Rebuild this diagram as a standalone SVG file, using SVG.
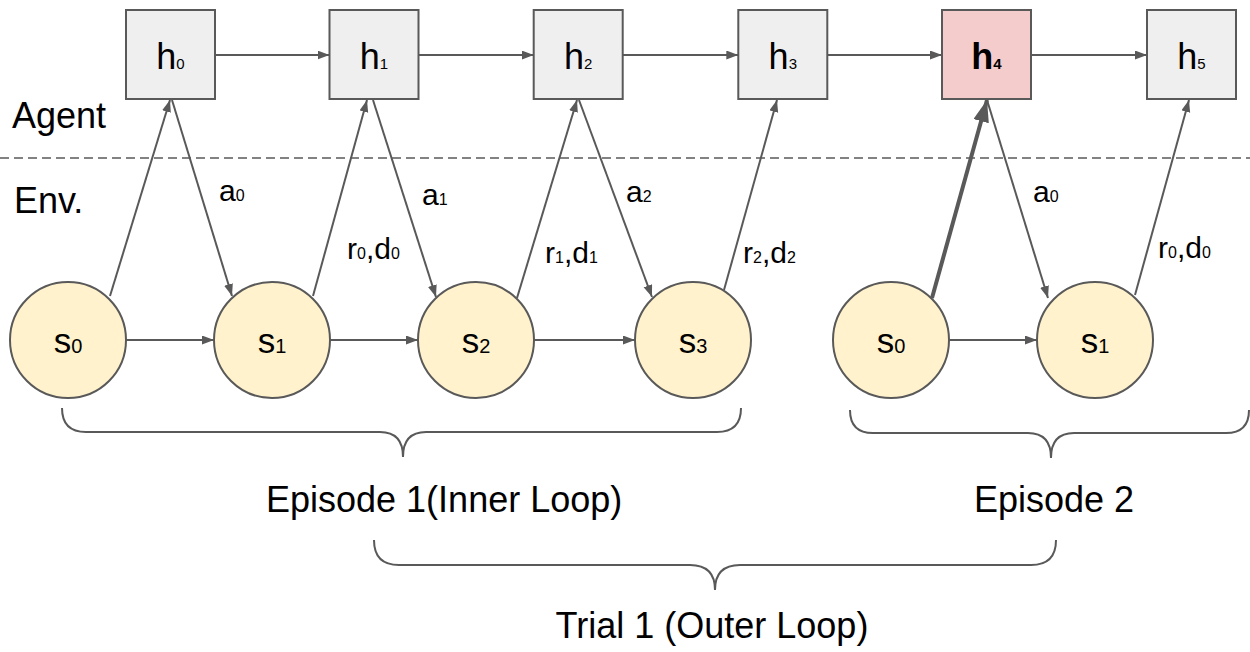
<svg xmlns="http://www.w3.org/2000/svg" width="1250" height="652" viewBox="0 0 1250 652">
  <style>
    .box { fill: #efefef; stroke: #595959; stroke-width: 2; }
    .box-hot { fill: #f4cccc; stroke: #595959; stroke-width: 2; }
    .state { fill: #fff2cc; stroke: #595959; stroke-width: 2; }
    .edge { fill: none; stroke: #595959; stroke-width: 2; marker-end: url(#arrow); }
    .edge-bold { fill: none; stroke: #595959; stroke-width: 4; marker-end: url(#arrow-bold); }
    .brace { fill: none; stroke: #595959; stroke-width: 2; }
    .divider { stroke: #595959; stroke-width: 1.5; stroke-dasharray: 9 5; }
    text { font-family: "Liberation Sans", Arial, sans-serif; fill: #000; }
    .big { font-size: 36px; }
    .hl { font-size: 36px; text-anchor: middle; }
    .hsub { font-size: 15px; }
    .sl { font-size: 35px; text-anchor: middle; }
    .ssub { font-size: 20px; }
    .el { font-size: 30px; }
    .esub { font-size: 16px; }
  </style>
  <defs>
    <marker id="arrow" markerUnits="userSpaceOnUse" markerWidth="13" markerHeight="10" refX="12" refY="4.5" orient="auto">
      <path d="M0,0 L12,4.5 L0,9 z" fill="#595959"/>
    </marker>
    <marker id="arrow-bold" markerUnits="userSpaceOnUse" markerWidth="24" markerHeight="18" refX="22" refY="8" orient="auto">
      <path d="M0,0 L22,8 L0,16 z" fill="#595959"/>
    </marker>
  </defs>

  <rect width="1250" height="652" fill="#ffffff"/>

  <!-- agent / environment split -->
  <line class="divider" x1="0" y1="158" x2="1250" y2="158"/>
  <text class="big" x="12" y="128">Agent</text>
  <text class="big" x="14" y="213">Env.</text>

  <!-- connectors -->
  <g id="connectors">
    <!-- hidden-state chain -->
    <line class="edge" x1="215" y1="55" x2="329.5" y2="55"/>
    <line class="edge" x1="418.5" y1="55" x2="533.7" y2="55"/>
    <line class="edge" x1="622.7" y1="55" x2="738.3" y2="55"/>
    <line class="edge" x1="827.3" y1="55" x2="942" y2="55"/>
    <line class="edge" x1="1031" y1="55" x2="1147" y2="55"/>
    <!-- state chain -->
    <line class="edge" x1="126" y1="340" x2="214" y2="340"/>
    <line class="edge" x1="330" y1="340" x2="418" y2="340"/>
    <line class="edge" x1="534" y1="340" x2="635" y2="340"/>
    <line class="edge" x1="949" y1="340" x2="1037" y2="340"/>
    <!-- observations up, actions down -->
    <line class="edge" x1="110" y1="296" x2="170" y2="100"/>
    <line class="edge" x1="172" y1="100" x2="232" y2="296"/>
    <line class="edge" x1="313" y1="296" x2="367" y2="100"/>
    <line class="edge" x1="373" y1="100" x2="436" y2="297"/>
    <line class="edge" x1="517" y1="298" x2="577" y2="100"/>
    <line class="edge" x1="579" y1="100" x2="652" y2="297"/>
    <line class="edge" x1="724" y1="290" x2="777" y2="100"/>
    <line class="edge-bold" x1="932" y1="298" x2="987" y2="100"/>
    <line class="edge" x1="987" y1="100" x2="1048" y2="298"/>
    <line class="edge" x1="1135" y1="295" x2="1189" y2="100"/>
  </g>

  <!-- edge labels -->
  <g id="edge-labels">
    <text class="el" x="219" y="201">a<tspan class="esub">0</tspan></text>
    <text class="el" x="347" y="259">r<tspan class="esub">0</tspan>,d<tspan class="esub">0</tspan></text>
    <text class="el" x="422" y="205">a<tspan class="esub">1</tspan></text>
    <text class="el" x="545" y="263">r<tspan class="esub">1</tspan>,d<tspan class="esub">1</tspan></text>
    <text class="el" x="626" y="202">a<tspan class="esub">2</tspan></text>
    <text class="el" x="743" y="263">r<tspan class="esub">2</tspan>,d<tspan class="esub">2</tspan></text>
    <text class="el" x="1033" y="202">a<tspan class="esub">0</tspan></text>
    <text class="el" x="1158" y="258">r<tspan class="esub">0</tspan>,d<tspan class="esub">0</tspan></text>
  </g>

  <!-- agent hidden states -->
  <g id="h0"><rect class="box" x="126" y="10" width="89" height="89"/><text class="hl" x="170.5" y="69">h<tspan class="hsub">0</tspan></text></g>
  <g id="h1"><rect class="box" x="329.5" y="10" width="89" height="89"/><text class="hl" x="374" y="69">h<tspan class="hsub">1</tspan></text></g>
  <g id="h2"><rect class="box" x="533.7" y="10" width="89" height="89"/><text class="hl" x="578.2" y="69">h<tspan class="hsub">2</tspan></text></g>
  <g id="h3"><rect class="box" x="738.3" y="10" width="89" height="89"/><text class="hl" x="782.8" y="69">h<tspan class="hsub">3</tspan></text></g>
  <g id="h4"><rect class="box-hot" x="942" y="10" width="89" height="89"/><text class="hl" x="986.5" y="69" font-weight="bold">h<tspan class="hsub">4</tspan></text></g>
  <g id="h5"><rect class="box" x="1147" y="10" width="89" height="89"/><text class="hl" x="1191.5" y="69">h<tspan class="hsub">5</tspan></text></g>

  <!-- environment states -->
  <g id="ep1-s0"><circle class="state" cx="68" cy="340" r="58"/><text class="sl" x="68" y="353">s<tspan class="ssub">0</tspan></text></g>
  <g id="ep1-s1"><circle class="state" cx="272" cy="340" r="58"/><text class="sl" x="272" y="353">s<tspan class="ssub">1</tspan></text></g>
  <g id="ep1-s2"><circle class="state" cx="476" cy="340" r="58"/><text class="sl" x="476" y="353">s<tspan class="ssub">2</tspan></text></g>
  <g id="ep1-s3"><circle class="state" cx="693" cy="340" r="58"/><text class="sl" x="693" y="353">s<tspan class="ssub">3</tspan></text></g>
  <g id="ep2-s0"><circle class="state" cx="891" cy="340" r="58"/><text class="sl" x="891" y="353">s<tspan class="ssub">0</tspan></text></g>
  <g id="ep2-s1"><circle class="state" cx="1095" cy="340" r="58"/><text class="sl" x="1095" y="353">s<tspan class="ssub">1</tspan></text></g>

  <!-- grouping braces -->
  <g id="episode-1">
    <path class="brace" d="M62,408 Q62,432 86,432 L380,432 Q403,432 403,457 Q403,432 426,432 L717,432 Q741,432 741,408"/>
    <text class="big" x="266" y="512">Episode 1(Inner Loop)</text>
  </g>
  <g id="episode-2">
    <path class="brace" d="M850,410 Q850,433 873,433 L1028,433 Q1051,433 1051,458 Q1051,433 1074,433 L1226,433 Q1249,433 1249,410"/>
    <text class="big" x="1054" y="512" text-anchor="middle">Episode 2</text>
  </g>
  <g id="trial-1">
    <path class="brace" d="M374,540 Q374,565 399,565 L690,565 Q715,565 715,590 Q715,565 740,565 L1031,565 Q1056,565 1056,540"/>
    <text class="big" x="712" y="638" text-anchor="middle">Trial 1 (Outer Loop)</text>
  </g>
</svg>
